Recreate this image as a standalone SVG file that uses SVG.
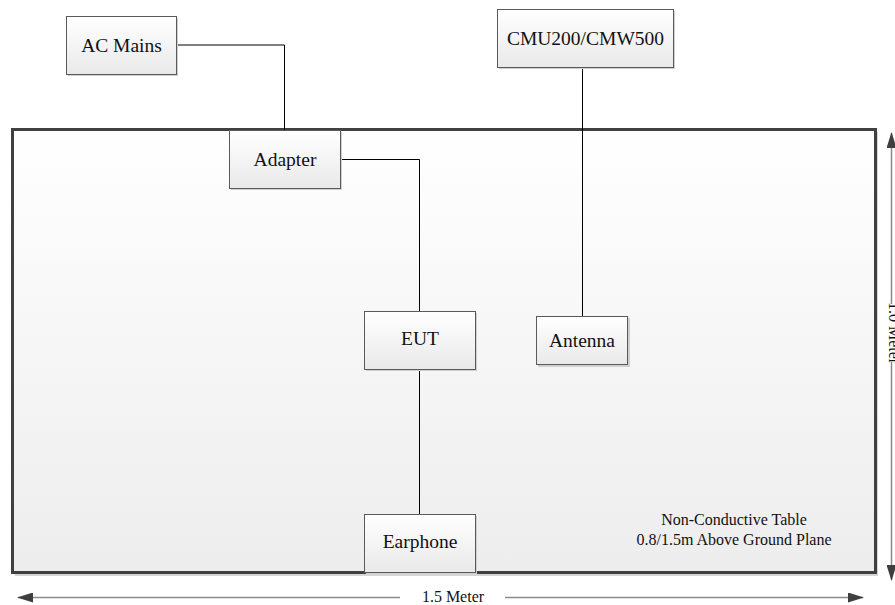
<svg xmlns="http://www.w3.org/2000/svg" width="895" height="605" viewBox="0 0 895 605">
<defs>
<linearGradient id="gTable" x1="0" y1="0" x2="0" y2="1">
<stop offset="0" stop-color="#ffffff"/>
<stop offset="1" stop-color="#ededed"/>
</linearGradient>
<linearGradient id="gNode" x1="0" y1="0" x2="0" y2="1">
<stop offset="0" stop-color="#ffffff"/>
<stop offset="1" stop-color="#e9e9e9"/>
</linearGradient>
<marker id="ah" viewBox="0 0 16 10" refX="15" refY="5" markerWidth="16" markerHeight="10" markerUnits="userSpaceOnUse" orient="auto-start-reverse">
<path d="M0,0 L16,5 L0,10 z" fill="#3f3f3f"/>
</marker>
</defs>
<style>
.node rect.box{fill:url(#gNode);stroke:#5a5a5a;stroke-width:1}
.node rect.sh{fill:#cfcfcf}
.lbl{font-family:"Liberation Serif","Times New Roman",serif;font-size:19.5px;fill:#111;text-anchor:middle}
.note{font-family:"Liberation Serif","Times New Roman",serif;font-size:16px;fill:#111;text-anchor:middle}
.conn{fill:none;stroke:#000;stroke-width:1}
.dim{fill:none;stroke:#8a8a8a;stroke-width:1.5}
</style>
<rect width="895" height="605" fill="#ffffff"/>

<g id="table">
<rect x="15" y="132" width="863" height="444" fill="#d6d6d6"/>
<rect x="12.5" y="129.5" width="863" height="443" fill="url(#gTable)" stroke="#404040" stroke-width="3"/>
<text class="note" x="734" y="525">Non-Conductive Table</text>
<text class="note" x="734" y="545">0.8/1.5m Above Ground Plane</text>
</g>

<g id="connectors">
<polyline class="conn" points="176,45 284.5,45 284.5,130"/>
<polyline class="conn" points="340,159.5 419.5,159.5 419.5,311"/>
<line class="conn" x1="419.5" y1="369" x2="419.5" y2="514"/>
<line class="conn" x1="582.5" y1="68" x2="582.5" y2="316"/>
</g>

<g id="ac-mains" class="node">
<rect class="sh" x="68" y="18" width="110" height="58"/>
<rect class="box" x="66.5" y="16.5" width="110" height="58"/>
<text class="lbl" x="121.5" y="52">AC Mains</text>
</g>

<g id="cmu" class="node">
<rect class="sh" x="499" y="11" width="176" height="58"/>
<rect class="box" x="497.5" y="9.5" width="176" height="58"/>
<text class="lbl" x="585.5" y="45">CMU200/CMW500</text>
</g>

<g id="adapter" class="node">
<rect class="sh" x="231" y="132" width="111" height="58"/>
<rect class="box" x="229.5" y="130.5" width="111" height="58"/>
<text class="lbl" x="285" y="166">Adapter</text>
</g>

<g id="eut" class="node">
<rect class="sh" x="366" y="313" width="111" height="58"/>
<rect class="box" x="364.5" y="311.5" width="111" height="58"/>
<text class="lbl" x="420" y="345">EUT</text>
</g>

<g id="antenna" class="node">
<rect class="sh" x="538" y="318" width="92" height="49"/>
<rect class="box" x="536.5" y="316.5" width="91" height="48"/>
<text class="lbl" x="582" y="347">Antenna</text>
</g>

<g id="earphone" class="node">
<rect class="sh" x="366" y="516" width="111" height="58"/>
<rect class="box" x="364.5" y="514.5" width="111" height="58"/>
<text class="lbl" x="420" y="548">Earphone</text>
</g>

<g id="dimensions">
<line class="dim" x1="18" y1="597.5" x2="400" y2="597.5" marker-start="url(#ah)"/>
<line class="dim" x1="505" y1="597.5" x2="863" y2="597.5" marker-end="url(#ah)"/>
<text class="note" x="453" y="602">1.5 Meter</text>
<line class="dim" x1="891.5" y1="133" x2="891.5" y2="304" marker-start="url(#ah)"/>
<line class="dim" x1="891.5" y1="362" x2="891.5" y2="580" marker-end="url(#ah)"/>
<text class="note" transform="translate(889,333) rotate(90)" x="0" y="0">1.0 Meter</text>
</g>
</svg>
